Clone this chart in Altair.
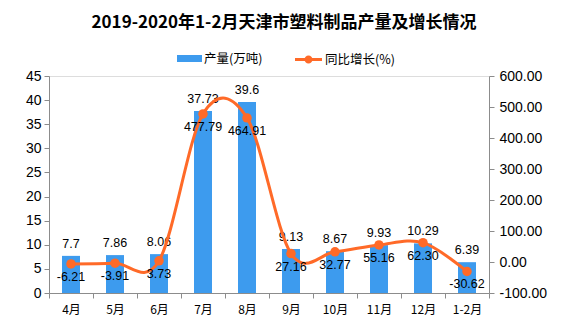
import altair as alt
import pandas as pd

months = ["4月", "5月", "6月", "7月", "8月", "9月", "10月", "11月", "12月", "1-2月"]
output = [7.7, 7.86, 8.06, 37.73, 39.6, 9.13, 8.67, 9.93, 10.29, 6.39]
growth = [-6.21, -3.91, 3.73, 477.79, 464.91, 27.16, 32.77, 55.16, 62.30, -30.62]
left_ticks = [0, 5, 10, 15, 20, 25, 30, 35, 40, 45]
right_ticks = [-100, 0, 100, 200, 300, 400, 500, 600]

df = pd.DataFrame({
    "month": months,
    "output": output,
    "output_label": [str(v) for v in output],
    "growth": growth,
    "growth_label": [f"{v:.2f}" for v in growth],
    "s1": "产量(万吨)",
    "s2": "同比增长(%)",
})

BLUE = "#3D9BEE"
ORANGE = "#FF6A28"
AXC = "#8C8C8C"
NUMFONT = "Liberation Sans"
CJK = "Noto Sans CJK SC"

x_axis = alt.Axis(title=None, labelAngle=0, tickBand="extent", tickSize=5,
                  domainColor=AXC, tickColor=AXC, labelColor="black",
                  labelFont=CJK, labelFontSize=12, labelPadding=6, grid=False)
x_scale = alt.Scale(paddingInner=0, paddingOuter=0)

yl_scale = alt.Scale(domain=[0, 45], nice=False)
yl_axis = alt.Axis(title=None, values=left_ticks, grid=False, tickSize=5,
                   labelOverlap=False, labelFlush=False,
                   domainColor=AXC, tickColor=AXC, labelColor="black",
                   labelFont=NUMFONT, labelFontSize=14, labelPadding=3)

yr_scale = alt.Scale(domain=[-100, 600], nice=False)
yr_axis = alt.Axis(orient="right", title=None, values=right_ticks, format=".2f",
                   labelOverlap=False, labelFlush=False,
                   grid=False, tickSize=5, domainColor=AXC, tickColor=AXC,
                   labelColor="black", labelFont=NUMFONT, labelFontSize=14,
                   labelPadding=5)


def X():
    return alt.X("month:N", sort=months, scale=x_scale, axis=x_axis)


def YL():
    return alt.Y("output:Q", scale=yl_scale, axis=yl_axis)


def YR():
    return alt.Y("growth:Q", scale=yr_scale, axis=yr_axis)


bars = alt.Chart(df).mark_bar(size=18).encode(
    x=X(), y=YL(),
    color=alt.Color("s1:N", scale=alt.Scale(range=[BLUE]),
                    legend=alt.Legend(title=None, orient="none", legendX=128, legendY=-30,
                                      padding=0,
                                      symbolType="M-1,-0.28L1,-0.28L1,0.28L-1,0.28Z",
                                      symbolSize=625, symbolStrokeWidth=0,
                                      labelFont=CJK, labelFontSize=12.5, labelOffset=2,
                                      labelColor="black")),
)

bar_text = alt.Chart(df).mark_text(baseline="bottom", dy=-5, font=NUMFONT, fontSize=12.5,
                                   color="black").encode(
    x=X(), y=YL(), text="output_label:N",
)

line = alt.Chart(df).mark_line(interpolate="cardinal", color=ORANGE, strokeWidth=3).encode(
    x=X(), y=YR(),
)

points = alt.Chart(df).mark_point(filled=True, size=90, opacity=1).encode(
    x=X(), y=YR(),
    color=alt.Color("s2:N", scale=alt.Scale(range=[ORANGE]),
                    legend=alt.Legend(title=None, orient="none", legendX=246, legendY=-30,
                                      padding=0,
                                      symbolType="M-1,-0.11L1,-0.11L1,0.11L-1,0.11Z M-0.3,0A0.3,0.3 0 1,1 0.3,0A0.3,0.3 0 1,1 -0.3,0Z",
                                      symbolSize=729, symbolStrokeWidth=0,
                                      labelFont=CJK, labelFontSize=12.5, labelOffset=3,
                                      labelColor="black")),
)

growth_text = alt.Chart(df).mark_text(baseline="top", dy=7, font=NUMFONT, fontSize=12.5,
                                      color="black").encode(
    x=X(), y=YR(), text="growth_label:N",
)

left = alt.layer(bars, bar_text)
right = alt.layer(line, points, growth_text)

chart = alt.layer(left, right).resolve_scale(
    y="independent", color="independent"
).properties(
    width=440, height=217,
    title=alt.Title("2019-2020年1-2月天津市塑料制品产量及增长情况", font=CJK, fontSize=17,
                    fontWeight="bold", color="black", anchor="middle", dx=15, offset=14),
    padding={"left": 49, "top": 76, "right": 88, "bottom": 34},
    autosize=alt.AutoSizeParams(type="none"),
).configure_view(stroke=None).configure(
    background="white",
    locale={"number": {"decimal": ".", "thousands": ",", "grouping": [3],
                       "currency": ["", ""], "minus": "-"}},
)

chart.save("out.html", embed_options={"renderer": "svg", "actions": False})
